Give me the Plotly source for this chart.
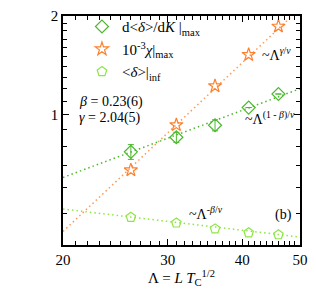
import plotly.graph_objects as go

# Data
lam = [26, 31, 36, 41, 46]
d_delta = [0.770, 0.853, 0.928, 1.051, 1.156]
d_delta_err = [0.040, 0.030, 0.036, 0.0, 0.0]
chi = [0.677, 0.930, 1.223, 1.523, 1.859]
delta_inf = [0.486, 0.467, 0.448, 0.436, 0.430]

fit_x = [20, 50]
fit_d_delta = [0.643, 1.20]
fit_chi = [0.44, 2.11]
fit_delta_inf = [0.515, 0.423]

x_major = [20, 30, 40, 50]
x_minor = [v for v in range(21, 50) if v not in x_major]
y_major = [1, 2]
y_minor = [0.4, 0.5, 0.6, 0.7, 0.8, 0.9, 1.1, 1.2, 1.3, 1.4, 1.5, 1.6, 1.7, 1.8, 1.9]

c_green = "#4cb82e"
c_orange = "#ff7f2a"
c_lime = "#8ee645"
FONT = "Liberation Serif"

fig = go.Figure()

fig.add_trace(go.Scatter(x=fit_x, y=fit_d_delta, mode="lines",
                         line=dict(color=c_green, dash="1.5px,3px", width=1.5), showlegend=False))
fig.add_trace(go.Scatter(x=fit_x, y=fit_chi, mode="lines",
                         line=dict(color="#ff9a55", dash="1.5px,3px", width=1.5), showlegend=False))
fig.add_trace(go.Scatter(x=fit_x, y=fit_delta_inf, mode="lines",
                         line=dict(color=c_lime, dash="1.5px,3px", width=1.5), showlegend=False))

fig.add_trace(go.Scatter(
    x=lam, y=d_delta, mode="markers", legendgroup="a",
    name="d&lt;<i>δ</i>&gt;/d<i>K</i> |<sub>max</sub>",
    marker=dict(symbol="diamond-open", size=10, color=c_green, line=dict(width=1.2)),
    error_y=dict(type="data", array=d_delta_err, color=c_green, thickness=1, width=3)))
fig.add_trace(go.Scatter(
    x=lam, y=chi, mode="markers", legendgroup="b",
    name="10<sup>-3</sup><i>χ</i>|<sub>max</sub>",
    marker=dict(symbol="star-open", size=10, color=c_orange, line=dict(width=1.2))))
fig.add_trace(go.Scatter(
    x=lam, y=delta_inf, mode="markers", legendgroup="c",
    name="&lt;<i>δ</i>&gt;|<sub>inf</sub>",
    marker=dict(symbol="pentagon-open", size=10, color=c_lime, line=dict(width=1.2))))

axis_common = dict(
    type="log", showgrid=False, zeroline=False, showline=True, linecolor="black",
    linewidth=1.5, mirror="allticks", ticks="inside", ticklen=6, tickwidth=1.2,
    tickcolor="black", tickfont=dict(family=FONT, size=15, color="black"),
)

fig.update_xaxes(
    **axis_common, range=[1.30103, 1.69897], tickmode="array", tickvals=x_major,
    ticktext=[str(v) for v in x_major],
    minor=dict(tickmode="array", tickvals=x_minor, ticks="inside", ticklen=4,
               tickwidth=1, tickcolor="black"),
    title=dict(text="Λ = <i>L T</i><sub>C</sub><sup>1/2</sup>",
               font=dict(family=FONT, size=15, color="black"), standoff=4),
)
fig.update_yaxes(
    **axis_common, range=[-0.39794, 0.30103], tickmode="array", tickvals=y_major,
    ticktext=[str(v) for v in y_major],
    minor=dict(tickmode="array", tickvals=y_minor, ticks="inside", ticklen=4,
               tickwidth=1, tickcolor="black"),
)

ann_font = dict(family=FONT, size=14, color="black")
annotations = [
    dict(x=0.058, y=0.625, text="<i>β</i> = 0.23(6)"),
    dict(x=0.058, y=0.553, text="<i>γ</i> = 2.04(5)"),
    dict(x=0.83, y=0.835, text="~Λ<sup><i>γ</i>/<i>ν</i></sup>"),
    dict(x=0.76, y=0.555, text="~Λ<sup>(1 - <i>β</i>)/<i>ν</i></sup>"),
    dict(x=0.525, y=0.14, text="~Λ<sup>-<i>β</i>/<i>ν</i></sup>"),
    dict(x=0.885, y=0.13, text="(b)"),
]
for a in annotations:
    a.update(xref="paper", yref="paper", xanchor="left", yanchor="middle",
             showarrow=False, font=ann_font)

fig.update_layout(
    width=316, height=290,
    margin=dict(l=63, r=15, t=8, b=45),
    paper_bgcolor="white", plot_bgcolor="white",
    annotations=annotations,
    legend=dict(x=0.08, y=1.025, xanchor="left", yanchor="top",
                bgcolor="rgba(0,0,0,0)", font=dict(family=FONT, size=15, color="black"),
                itemwidth=30, tracegroupgap=0),
)

fig.write_html("out.html", config={"displayModeBar": False},
               post_script="document.body.style.margin='0px';")
